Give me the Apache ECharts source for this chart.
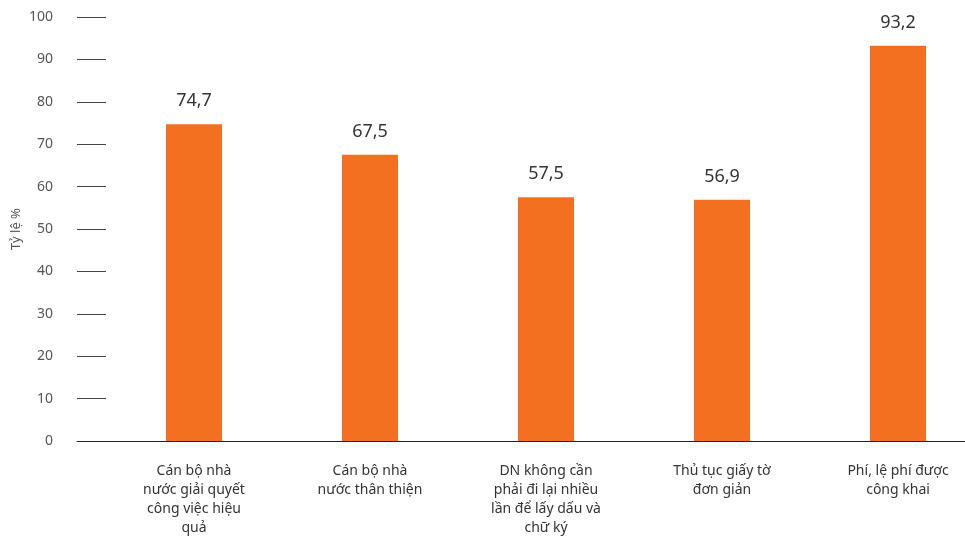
<!DOCTYPE html>
<html><head><meta charset="utf-8">
<script src="https://cdn.jsdelivr.net/npm/echarts@6/dist/echarts.min.js"></script>
<style>html,body{margin:0;padding:0;background:#fff;overflow:hidden;width:965px;height:539px}#c{width:986px;height:539px}</style>
</head><body><div id="c"></div>
<script>
var categories = [
  "Cán bộ nhà\nnước giải quyết\ncông việc hiệu\nquả",
  "Cán bộ nhà\nnước thân thiện",
  "DN không cần\nphải đi lại nhiều\nlần để lấy dấu và\nchữ ký",
  "Thủ tục giấy tờ\nđơn giản",
  "Phí, lệ phí được\ncông khai"
];
var values = [74.7, 67.5, 57.5, 56.9, 93.2];
var yAxisName = "Tỷ lệ %";
var FONT = "Noto Sans";

var chart = echarts.init(document.getElementById('c'), null, {renderer: 'canvas'});
chart.setOption({
  animation: false,
  textStyle: {fontFamily: FONT},
  grid: [
    {left: 77, width: 29, top: 17, bottom: 98},
    {left: 106, width: 880, top: 17, bottom: 98}
  ],
  xAxis: [
    {gridIndex: 0, type: 'category', data: [''], axisLine: {show: true, lineStyle: {color: '#222', width: 1}},
     axisTick: {show: false}, axisLabel: {show: false}},
    {gridIndex: 1, type: 'category', data: categories,
     axisLine: {show: true, lineStyle: {color: '#222', width: 1}},
     axisTick: {show: false},
     axisLabel: {color: '#333', fontSize: 14, lineHeight: 19, margin: 21, interval: 0, fontFamily: FONT}}
  ],
  yAxis: [
    {gridIndex: 0, type: 'value', min: 0, max: 100, interval: 10,
     name: yAxisName, nameLocation: 'middle', nameGap: 54, nameRotate: 90,
     nameTextStyle: {color: '#555', fontSize: 13, fontFamily: FONT},
     axisLine: {show: false}, axisTick: {show: false},
     axisLabel: {color: '#555', fontSize: 14, margin: 24, fontFamily: FONT},
     splitLine: {show: true, lineStyle: {color: '#444', width: 1}}},
    {gridIndex: 1, type: 'value', min: 0, max: 100, interval: 10, show: false}
  ],
  series: [{
    type: 'bar', xAxisIndex: 1, yAxisIndex: 1, data: values, barWidth: 56,
    itemStyle: {color: '#F37021'},
    label: {show: true, position: 'top', distance: 14, color: '#333', fontSize: 18, fontFamily: FONT,
      formatter: function(p){ return String(p.value).replace('.', ','); }}
  }]
});
</script></body></html>
